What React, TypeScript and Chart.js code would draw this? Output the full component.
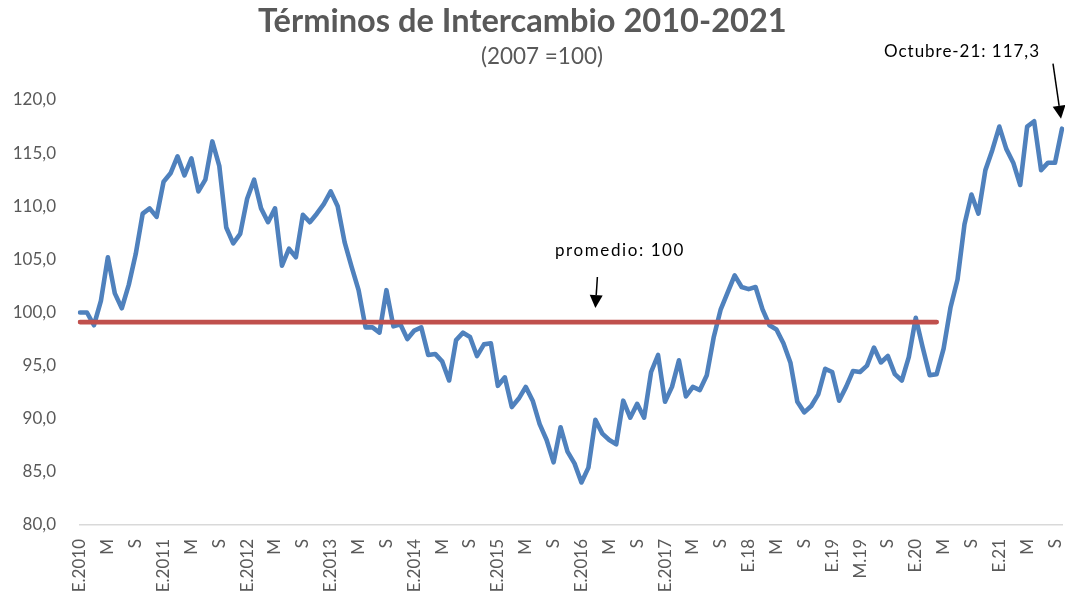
import React, { useEffect, useRef } from 'react';
import { Chart, registerables } from 'chart.js';

Chart.register(...registerables);

const years = [2010, 2011, 2012, 2013, 2014, 2015, 2016, 2017, 2018, 2019, 2020, 2021];
const monthNames = ['Ene', 'Feb', 'Mar', 'Abr', 'May', 'Jun', 'Jul', 'Ago', 'Sep', 'Oct', 'Nov', 'Dic'];
const categories: string[] = years
  .flatMap((yr) => monthNames.map((m) => `${m}-${yr}`))
  .slice(0, 142);

// one label every 4 months
const tickLabels = [
  'E.2010', 'M', 'S', 'E.2011', 'M', 'S', 'E.2012', 'M', 'S', 'E.2013', 'M', 'S',
  'E.2014', 'M', 'S', 'E.2015', 'M', 'S', 'E.2016', 'M', 'S', 'E.2017', 'M', 'S',
  'E.18', 'M', 'S', 'E.19', 'M.19', 'S', 'E.20', 'M', 'S', 'E.21', 'M', 'S',
];

const terminos = [
  // 2010
  100.0, 100.0, 98.8, 101.1, 105.2, 101.8, 100.4, 102.6, 105.5, 109.3, 109.8, 109.0,
  // 2011
  112.3, 113.1, 114.7, 112.9, 114.5, 111.4, 112.5, 116.1, 113.8, 108.0, 106.5, 107.4,
  // 2012
  110.7, 112.5, 109.8, 108.5, 109.8, 104.4, 106.0, 105.2, 109.2, 108.5, 109.3, 110.2,
  // 2013
  111.4, 110.0, 106.6, 104.3, 102.1, 98.6, 98.6, 98.1, 102.1, 98.7, 98.9, 97.5,
  // 2014
  98.3, 98.6, 96.0, 96.1, 95.4, 93.6, 97.4, 98.1, 97.7, 95.9, 97.0, 97.1,
  // 2015
  93.1, 93.9, 91.1, 91.9, 93.0, 91.7, 89.5, 88.0, 85.9, 89.2, 86.9, 85.8,
  // 2016
  84.0, 85.4, 89.9, 88.6, 88.0, 87.6, 91.7, 90.1, 91.4, 90.1, 94.4, 96.0,
  // 2017
  91.6, 93.0, 95.5, 92.1, 93.0, 92.7, 94.1, 97.7, 100.3, 101.9, 103.5, 102.4,
  // 2018
  102.2, 102.4, 100.3, 98.8, 98.4, 97.1, 95.3, 91.6, 90.6, 91.2, 92.3, 94.7,
  // 2019
  94.4, 91.7, 93.0, 94.5, 94.4, 95.0, 96.7, 95.3, 95.9, 94.2, 93.6, 95.8,
  // 2020
  99.5, 96.7, 94.1, 94.2, 96.6, 100.5, 103.1, 108.3, 111.1, 109.3, 113.4, 115.3,
  // 2021 (Ene - Oct)
  117.5, 115.4, 114.1, 112.0, 117.5, 118.0, 113.4, 114.1, 114.1, 117.3,
];

const promedioValue = 99.1;
const promedioEndIndex = 123;
const promedioSeries = categories.map((_, i) => (i <= promedioEndIndex ? promedioValue : null));

const titleText = 'Términos de Intercambio 2010-2021';
const subtitleText = '(2007 =100)';
const promedioNote = 'promedio: 100';
const promedioNoteIndex = 74;
const lastNote = 'Octubre-21: 117,3';

const GREY = '#595959';
const FONT = 'Lato, "Open Sans", sans-serif';

function fitSpacing(
  ctx: CanvasRenderingContext2D,
  text: string,
  weight: string,
  size: number,
  target: number,
) {
  ctx.font = `${weight} ${size}px ${FONT}`;
  (ctx as any).letterSpacing = '0px';
  const w = ctx.measureText(text).width;
  const sp = (target - w) / text.length;
  (ctx as any).letterSpacing = `${sp}px`;
}

function fitSize(
  ctx: CanvasRenderingContext2D,
  text: string,
  weight: string,
  target: number,
) {
  (ctx as any).letterSpacing = '0px';
  ctx.font = `${weight} 100px ${FONT}`;
  const w = ctx.measureText(text).width;
  const size = (100 * target) / w;
  ctx.font = `${weight} ${size}px ${FONT}`;
}

function arrow(ctx: CanvasRenderingContext2D, x1: number, y1: number, x2: number, y2: number) {
  const ang = Math.atan2(y2 - y1, x2 - x1);
  const headLen = 13;
  const headW = 6.5;
  const bx = x2 - headLen * Math.cos(ang);
  const by = y2 - headLen * Math.sin(ang);
  ctx.strokeStyle = '#000';
  ctx.fillStyle = '#000';
  ctx.lineWidth = 1.5;
  ctx.beginPath();
  ctx.moveTo(x1, y1);
  ctx.lineTo(bx, by);
  ctx.stroke();
  ctx.beginPath();
  ctx.moveTo(x2, y2);
  ctx.lineTo(bx + headW * Math.sin(ang), by - headW * Math.cos(ang));
  ctx.lineTo(bx - headW * Math.sin(ang), by + headW * Math.cos(ang));
  ctx.closePath();
  ctx.fill();
}

const notesPlugin = {
  id: 'notes',
  afterDraw(chart: any) {
    const { ctx, scales } = chart;
    const x = scales.x;
    const y = scales.y;
    ctx.save();
    // titles
    ctx.fillStyle = GREY;
    ctx.textAlign = 'left';
    ctx.textBaseline = 'middle';
    fitSize(ctx, titleText, 'bold', 529);
    ctx.fillText(titleText, 258, 21);
    fitSize(ctx, subtitleText, 'normal', 122);
    ctx.fillText(subtitleText, 481, 57);

    // promedio annotation
    ctx.fillStyle = '#000';
    fitSpacing(ctx, promedioNote, 'normal', 17, 130);
    ctx.fillText(promedioNote, 555, 251);
    const px = x.getPixelForValue(promedioNoteIndex);
    const py = y.getPixelForValue(promedioValue);
    (ctx as any).letterSpacing = '0px';
    arrow(ctx, px + 2, py - 45, px, py - 14);

    // last value annotation
    ctx.fillStyle = '#000';
    fitSpacing(ctx, lastNote, 'normal', 17, 156);
    ctx.fillText(lastNote, 884, 52);
    const lx = x.getPixelForValue(terminos.length - 1);
    const ly = y.getPixelForValue(terminos[terminos.length - 1]);
    (ctx as any).letterSpacing = '0px';
    arrow(ctx, lx - 9, ly - 65, lx - 1, ly - 10);
    ctx.restore();
  },
};

export default function App() {
  const canvasRef = useRef<HTMLCanvasElement | null>(null);

  useEffect(() => {
    const canvas = canvasRef.current;
    if (!canvas) return;
    const chart = new Chart(canvas, {
      type: 'line',
      data: {
        labels: categories,
        datasets: [
          {
            label: 'Promedio',
            data: promedioSeries,
            borderColor: '#C0504D',
            backgroundColor: '#C0504D',
            borderWidth: 4.8,
            borderCapStyle: 'round',
            pointRadius: 0,
            tension: 0,
            order: 1,
            spanGaps: false,
          },
          {
            label: 'Términos de Intercambio',
            data: terminos,
            borderColor: '#4F81BD',
            backgroundColor: '#4F81BD',
            borderWidth: 4.6,
            borderCapStyle: 'round',
            borderJoinStyle: 'round',
            pointRadius: 0,
            tension: 0,
            order: 2,
          },
        ],
      },
      options: {
        animation: false,
        responsive: false,
        devicePixelRatio: 1,
        layout: { padding: { left: 0, right: 3, top: 100, bottom: 0 } },
        plugins: {
          legend: { display: false },
          title: { display: false },
          tooltip: { enabled: false },
        },
        scales: {
          x: {
            type: 'category',
            offset: false,
            grid: { display: false, drawTicks: false },
            border: { display: true, color: '#d9d9d9', width: 1.5 },
            ticks: {
              autoSkip: false,
              maxRotation: 90,
              minRotation: 90,
              padding: 14,
              color: GREY,
              font: { family: FONT, size: 17 },
              callback: (_v: any, idx: number) => (idx % 4 === 0 ? tickLabels[idx / 4] : null),
            },
            afterFit: (s: any) => {
              s.height = 75;
              s.paddingRight = 0;
              s.paddingLeft = 0;
            },
          },
          y: {
            min: 80,
            max: 120,
            grid: { display: false, drawTicks: false },
            border: { display: false },
            ticks: {
              stepSize: 5,
              padding: 24,
              color: GREY,
              font: { family: FONT, size: 17 },
              callback: (v: any) => Number(v).toFixed(1).replace('.', ','),
            },
            afterFit: (s: any) => {
              s.width = 80;
            },
          },
        },
      },
      plugins: [notesPlugin],
    });
    return () => chart.destroy();
  }, []);

  return (
    <div style={{ position: 'absolute', left: 0, top: 0, width: 1065, height: 600, background: '#fff' }}>
      <canvas ref={canvasRef} width={1065} height={600} />
    </div>
  );
}
